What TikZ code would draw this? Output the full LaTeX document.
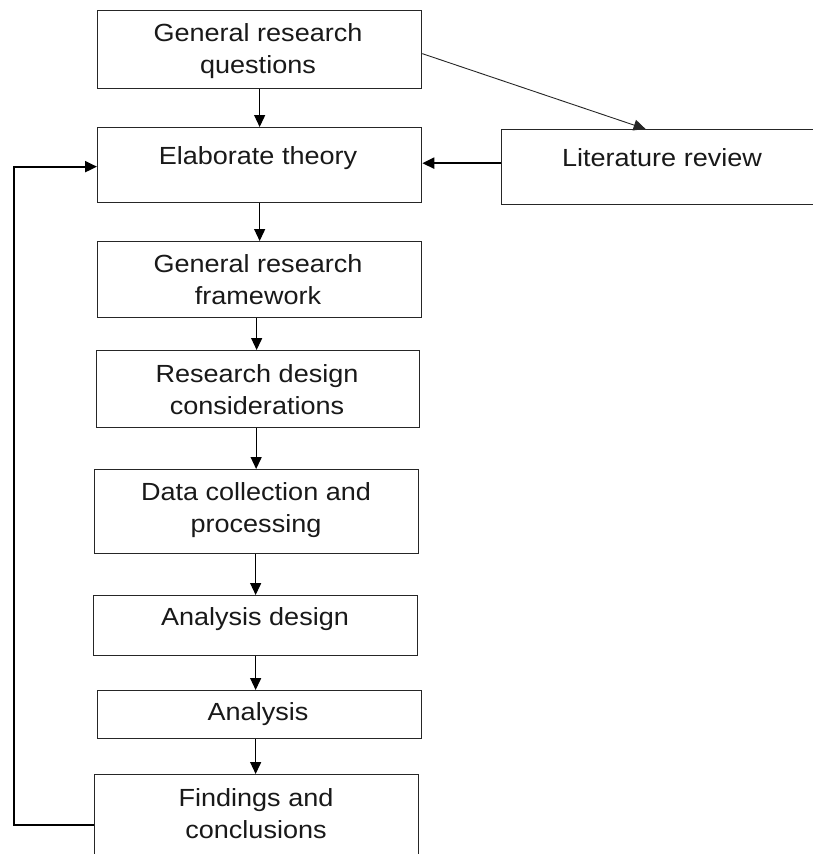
\documentclass[tikz,border=0pt]{standalone}
\usepackage{fontspec}
\setmainfont{Liberation Sans}[FakeStretch=1.09]
\usetikzlibrary{arrows.meta,calc}

\tikzset{
  box/.style={draw=black!85, line width=1.3pt, rectangle, inner sep=0pt, anchor=north west},
  txt/.style={align=center, inner sep=0pt, text=black!90, font=\fontsize{24.8}{32}\selectfont},
  flow/.style={draw=black, line width=1.3pt, -{Triangle[length=12pt,width=11pt]}},
  thin flow/.style={draw=black!85, line width=0.9pt, -{Triangle[length=12pt,width=11pt]}},
  heavy flow/.style={draw=black, line width=2.2pt, -{Triangle[length=12pt,width=11pt]}},
}

\begin{document}
\begin{tikzpicture}[x=1pt, y=-1pt]
  \clip (0,0) rectangle (813,854);
  \fill[white] (0,0) rectangle (813,854);

  % boxes (top-left corner, width x height)
  \node[box, minimum width=324pt, minimum height=78pt] (grq) at (97,10) {};
  \node[box, minimum width=324pt, minimum height=75pt] (et)  at (97,127) {};
  \node[box, minimum width=320pt, minimum height=75pt] (lr)  at (501,129) {};
  \node[box, minimum width=324pt, minimum height=76pt] (grf) at (97,241) {};
  \node[box, minimum width=323pt, minimum height=77pt] (rdc) at (96,350) {};
  \node[box, minimum width=324pt, minimum height=84pt] (dcp) at (94,469) {};
  \node[box, minimum width=324pt, minimum height=60pt] (ad)  at (93,595) {};
  \node[box, minimum width=324pt, minimum height=48pt] (an)  at (97,690) {};
  \node[box, minimum width=324pt, minimum height=96pt] (fc)  at (94,774) {};

  % labels
  \node[txt] (grqt) at (258,51) {General research\\questions};
  \node[txt] (ett)  at (258,158) {Elaborate theory};
  \node[txt] (lrt)  at (662,158) {Literature review};
  \node[txt] (grft) at (258,280) {General research\\framework};
  \node[txt] (rdct) at (257,390) {Research design\\considerations};
  \node[txt] (dcpt) at (256,510) {Data collection and\\processing};
  \node[txt] (adt)  at (255,619) {Analysis design};
  \node[txt] (ant)  at (258,714) {Analysis};
  \node[txt] (fct)  at (256,814) {Findings and\\conclusions};

  % main chain
  \draw[flow] (grq.south) -- (grq.south |- et.north);
  \draw[flow] (et.south) -- (et.south |- grf.north);
  \draw[flow] ([xshift=-3pt]grf.south) -- ([xshift=-3pt]grf.south |- rdc.north);
  \draw[flow] ([xshift=-2pt]rdc.south) -- ([xshift=-2pt]rdc.south |- dcp.north);
  \draw[flow] ([xshift=-1pt]dcp.south) -- ([xshift=-1pt]dcp.south |- ad.north);
  \draw[flow] (ad.south) -- (ad.south |- an.north);
  \draw[flow] ([xshift=-4pt]an.south) -- ([xshift=-4pt]an.south |- fc.north);

  % literature branch
  \coordinate (lrin) at ($(lr.north west)!0.45!(lr.north east)$);
  \draw[thin flow] ([yshift=-4pt]grq.east) -- (lrin);
  \draw[heavy flow] ([yshift=4pt]lr.west) -- ([yshift=4pt]lr.west -| et.east);

  % feedback loop
  \coordinate (loopx) at (14,0);
  \coordinate (etin) at ([yshift=-1.5pt]et.west);
  \draw[heavy flow] ([yshift=-2pt]fc.west) -| (loopx |- etin) -- (etin);
\end{tikzpicture}
\end{document}
